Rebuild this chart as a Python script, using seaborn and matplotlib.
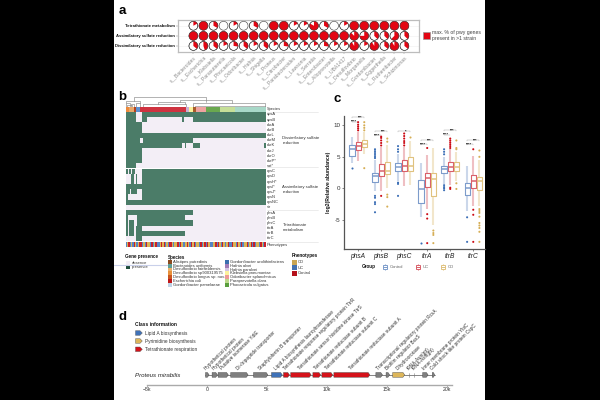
import numpy as np
import pandas as pd
import matplotlib
matplotlib.use("Agg")
import matplotlib.pyplot as plt
from matplotlib.colors import ListedColormap
from matplotlib.patches import Rectangle, Wedge, Circle, Polygon
import seaborn as sns

# ---------------- panel a data
genera = ["s__Bacteroides", "s__Escherichia", "s__Klebsiella", "s__Parasutterella", "s__Phocaeicola",
          "s__Odoribacter", "s__Hafnia", "s__Shigella", "s__Proteus", "s__Citrobacter",
          "s__Parabacteroides", "s__Lawsonia", "s__Serratia", "s__Enterobacter", "s__Alloprevotella",
          "s__UBA1417", "s__Desulfovibrio", "s__Morganella", "s__Gordonibacter", "s__Eggerthella",
          "s__Ruthenibacter", "s__Schizimonas"]
pathways = ["Tetrathionate metabolism", "Assimilatory sulfate reduction", "Dissimilatory sulfate reduction"]
tetrathionate = [.17, 1, .33, 0, .17, 0, .33, 0, 1, 1, .17, .17, .83, .33, 0, .17, 1, 1, 1, 1, 1, 1]
assimilatory = [1, 1, 1, 1, 1, 1, 1, 1, 1, 1, 1, 1, 1, 1, 1, 1, .875, .75, .375, .375, .625, .375]
dissimilatory = [.36, .45, .36, .18, .27, .36, .18, .36, .18, .27, .18, .18, .18, .27, .18, .18, .91, .18, .91, .36, .91, .36]

# ---------------- panel b data
gene_groups = {
    "Dissimilatory": ["apsA", "apsB", "dsrA", "dsrB", "dsrL", "dsrM", "dsrK", "dsrJ", "dsrO", "dsrP", "sat"],
    "Assimilatory": ["cysC", "cysD", "cysH", "cysI", "cysJ", "cysN", "cysNC", "sir"],
    "Tetrathionate": ["phsA", "phsB", "phsC", "ttrA", "ttrB", "ttrC"],
}
n_strains = 122
presence = {
    "apsA": [(0, 9), (14, 122)], "apsB": [(0, 9), (14, 19), (49, 51), (59, 122)],
    "dsrA": [(0, 14)], "dsrB": [(0, 14)], "dsrL": [(0, 122)], "dsrM": [(0, 13), (15, 59)],
    "dsrK": [(0, 49), (52, 53), (59, 65), (121, 122)], "dsrJ": [(0, 14)], "dsrO": [(0, 14)],
    "dsrP": [(0, 14)], "sat": [(0, 9)],
    "cysC": [(0, 2), (3, 5), (6, 8), (14, 122)], "cysD": [(5, 7), (9, 10), (14, 122)],
    "cysH": [(5, 7), (9, 10), (14, 122)], "cysI": [(0, 122)], "cysJ": [(0, 4), (5, 10), (14, 122)],
    "cysN": [(0, 2), (14, 122)], "cysNC": [(0, 122)], "sir": [],
    "phsA": [(0, 59)], "phsB": [(0, 2), (10, 52)], "phsC": [(0, 2), (3, 7), (10, 59)],
    "ttrA": [(0, 2), (3, 7), (9, 14)], "ttrB": [(0, 2), (3, 7), (9, 52)], "ttrC": [(9, 14)],
}
species_counts = [3, 4, 2, 4, 40, 2, 4, 2, 9, 12, 13, 27]
species_bar_colors = ["#EE8A3C", "#E8A86A", "#B5431F", "#5B8FCF", "#CF3340", "#C9B2D6", "#FBF09A",
                      "#A85A2A", "#EFA3A0", "#6AA84F", "#C6DF98", "#A8D8C8"]
phenotype_seq = ("BGRBGBRGBGRRBGBRGGBRBGRBBGRGRBGBRRGBGGRBRGBBGRGBRGRBGGBRBGRBRGBBGGRBRGB"
                 "RGBGRBBRGGBRGBRBGGRBGRBRBGGBRGBR")
phenotype_colors = {"G": "#D9B455", "B": "#5584C4", "R": "#C8202A"}
leg_species_1 = ["Alistipes putredinis", "Bacteroides uniformis", "Desulfovibrio fairfieldensis",
                 "Desulfovibrio sp900319575", "Desulfovibrio longus sp. nov.", "Escherichia coli",
                 "Gordonibacter pamelaeae"]
leg_colors_1 = ["#8B4A1F", "#5F9E93", "#E8B06A", "#E8903A", "#C8551E", "#C01818", "#BFD3E6"]
leg_species_2 = ["Gordonibacter urolithinfaciens", "Hafnia alvei", "Hafnia paralvei", "Klebsiella pneumoniae",
                 "Odoribacter splanchnicus", "Paraprevotella clara", "Phocaeicola vulgatus"]
leg_colors_2 = ["#3A6FAF", "#A07BB7", "#D3C4E3", "#FBF29B", "#EE9A96", "#BBD98A", "#5A9E3E"]

# ---------------- panel c data  (low whisker, q1, median, q3, high whisker)
genes_c = ["phsA", "phsB", "phsC", "ttrA", "ttrB", "ttrC"]
groups_c = ["Control", "UC", "CD"]
stats_control = [[4.0, 5.2, 6.2, 6.9, 8.2], [-0.5, 1.0, 2.0, 2.5, 4.5], [1.2, 2.8, 3.4, 4.0, 5.5],
                 [-4.5, -2.3, -0.1, 1.3, 4.0], [0.7, 2.4, 3.0, 3.6, 5.0], [-3.6, -1.1, 0.0, 0.9, 3.5]]
stats_uc = [[4.3, 6.1, 6.7, 7.4, 9.0], [-0.5, 1.9, 2.8, 3.9, 6.6], [0.4, 2.7, 3.6, 4.5, 6.6],
            [-3.3, 0.2, 1.6, 2.5, 5.3], [0.5, 2.7, 3.4, 4.2, 6.2], [-2.8, 0.0, 1.2, 2.1, 5.2]]
stats_cd = [[5.5, 6.6, 7.1, 7.6, 9.0], [0.0, 2.2, 2.8, 4.1, 6.9], [0.5, 2.7, 3.6, 4.9, 7.5],
            [-5.9, -1.2, 1.5, 2.5, 6.4], [1.2, 2.8, 3.4, 4.2, 5.8], [-2.8, -0.2, 1.2, 1.8, 4.5]]
out_control = [[3.2], [4.8, 5.0, 5.3, 5.6, 5.9, 6.2, -1.2, -1.5, -2.2, -2.5, -3.8], [5.8, 6.2, 6.7, 0.7, 0.9, -1.2],
               [-8.7], [5.4, 5.8, 6.2, 0.5, 0.2, 0.0, -0.3], [-4.6, -8.5]]
out_uc = [[9.2, 9.5, 9.8, 10.1, 10.5], [6.8, 7.2, 7.6, 8.0, 8.2, -1.2], [6.8, 7.2, 7.5, 7.9, 8.3, 8.7],
          [6.4, -4.1, -4.8, -8.7], [6.4, 6.7, 7.0, 7.3, 7.6, 7.9, 0.1, -0.1], [6.2, -3.4, -4.2, -8.5]]
out_cd = [[3.2, 9.2, 9.6, 10.0, 10.5], [7.4, 7.9, -1.0, -1.4, -2.9], [8.2],
          [-6.7, -7.1, -7.4, -8.7], [6.2, 6.4, 7.6, 0.8, -0.1],
          [6.0, 5.0, -3.3, -3.6, -3.9, -4.5, -5.5, -5.9, -6.3, -6.9, -8.5]]
sig_gene = [0, 0, 1, 1, 2, 3, 3, 4, 4, 5, 5]
sig_pair = ["UC", "CD", "UC", "CD", "CD", "UC", "CD", "UC", "CD", "UC", "CD"]
sig_y = [10.6, 11.3, 8.4, 9.1, 9.1, 7.0, 7.65, 8.5, 9.2, 7.0, 7.65]
sig_text = ["****", "***", "****", "***", "*", "****", "***", "****", "***", "****", "***"]

# ---------------- panel d data (kb)
gene_names = ["Hypothetical protein", "Hypothetical protein", "Putative isomerase YdiE", "Di-/tripeptide transporter",
              "Staphyloferrin B transporter", "Lipid A biosynthesis lauroyltransferase",
              "Tetrathionate response regulatory protein TtrR", "Tetrathionate sensor histidine kinase TtrS",
              "Tetrathionate reductase subunit B", "Tetrathionate reductase subunit C",
              "Tetrathionate reductase subunit A", "Transcriptional regulatory protein RcsA",
              "Biofilm regulator BssS", "Dihydroorotase", "tRNA-Asn(gtt)", "tRNA-Asn(gtt)",
              "Inner membrane protein YbiC", "Cold shock-like protein CspC"]
gene_start = [-0.1, 0.45, 0.95, 2.0, 3.9, 5.4, 6.4, 7.0, 8.85, 9.6, 10.6, 14.1, 14.95, 15.5, 16.9, 17.3, 18.0, 18.8]
gene_end = [0.2, 0.9, 1.8, 3.45, 5.1, 6.3, 6.9, 8.7, 9.5, 10.5, 13.6, 14.65, 15.25, 16.5, 16.95, 17.35, 18.45, 19.0]
gene_class = ["o", "o", "o", "o", "o", "L", "T", "T", "T", "T", "T", "o", "o", "P", "o", "o", "o", "o"]
class_colors = {"o": "#7F7F7F", "L": "#3F72B8", "P": "#DDB65A", "T": "#D5121A"}
class_names = ["Lipid A biosynthesis", "Pyrimidine biosynthesis", "Tetrathionate respiration"]
class_keys = ["L", "P", "T"]

# ---------------- figure
sns.set_theme(style="white")
plt.rcParams["font.family"] = ["Liberation Sans", "DejaVu Sans"]
plt.rcParams["axes.unicode_minus"] = False
W, H = 600, 400
fig = plt.figure(figsize=(6, 4), dpi=100, facecolor="black")


def px_axes(l, t, r, b, **kw):
    return fig.add_axes([l / W, 1 - b / H, (r - l) / W, (b - t) / H], **kw)


ov = px_axes(0, 0, W, H)
ov.set_xlim(0, W)
ov.set_ylim(H, 0)
ov.axis("off")
ov.add_patch(Rectangle((114, 0), 371, 400, fc="white", ec="none", zorder=0))
for lab, x, y in [("a", 118.5, 10.5), ("b", 118.5, 96.5), ("c", 334, 99.5), ("d", 118.5, 317)]:
    ov.text(x, y, lab, fontsize=9.5, fontweight="bold", color="black", va="center", ha="left")

# ---------------- a: pies
RED = "#E30613"
ax = px_axes(178, 20, 419, 51.7)
ax.set_xlim(-1.53, 22.45)
ax.set_ylim(2.57, -0.57)
ax.grid(True, color="#EFEFEF", lw=0.4)
ax.set_axisbelow(True)
for r, vals in enumerate([tetrathionate, assimilatory, dissimilatory]):
    for c, v in enumerate(vals):
        ax.add_patch(Circle((c, r), 0.44, fc="white", ec="#333333", lw=0.4, zorder=2))
        if v > 0:
            # y axis is inverted: increasing angle runs clockwise on screen
            ax.add_patch(Wedge((c, r), 0.44, -90, -90 + 360 * v, fc=RED, ec="none", zorder=3))
            ax.add_patch(Circle((c, r), 0.44, fc="none", ec="#333333", lw=0.3, zorder=4))
ax.set_xticks(range(len(genera)))
ax.set_xticklabels(genera, rotation=45, ha="right", rotation_mode="anchor", fontsize=3.6, color="#8C8C8C")
ax.set_yticks(range(3))
ax.set_yticklabels(pathways, fontsize=3.0, fontweight="bold", color="#111111")
ax.tick_params(axis="both", length=1.2, width=0.3, color="#777777", pad=1, bottom=True, left=True)
for s in ax.spines.values():
    s.set_color("#BDBDBD")
    s.set_linewidth(0.9)
ov.add_patch(Rectangle((422.5, 32), 7, 7, fc=RED, ec="#999999", lw=0.5))
ov.text(432, 35.7, "max. % of pwy genes\npresent in >1 strain", fontsize=3.7, color="#444444", va="center", linespacing=1.25)

# ---------------- b: heatmaps
GREEN, PALE = "#4B7C68", "#F3EEF6"
hm_cmap = ListedColormap([PALE, GREEN])
row_h = 5.17
top = 111.8
for names in gene_groups.values():
    mat = np.zeros((len(names), n_strains))
    for i, g in enumerate(names):
        for s, e in presence[g]:
            mat[i, s:e] = 1
    bot = top + row_h * len(names)
    hax = px_axes(125.5, top + 0.25, 265.6, bot - 0.25)
    sns.heatmap(pd.DataFrame(mat, index=names), cmap=hm_cmap, vmin=0, vmax=1, cbar=False, ax=hax,
                xticklabels=False, yticklabels=False, rasterized=True)
    hax.set_xlabel("")
    hax.set_ylabel("")
    for i, g in enumerate(names):
        ov.text(267, top + (i + 0.5) * row_h, g + ("*" if g in ("dsrP", "sat", "cysH", "cysI", "cysJ") else ""),
                fontsize=2.9, color="#333333", va="center")
    top = bot

sp_ax = px_axes(125.5, 107.2, 265.6, 111.6)
sns.heatmap(np.repeat(np.arange(len(species_counts)), species_counts)[None, :], cmap=ListedColormap(species_bar_colors),
            cbar=False, ax=sp_ax, xticklabels=False, yticklabels=False)
ph_ax = px_axes(125.5, 242.3, 265.6, 247)
ph_codes = [list(phenotype_colors).index(ch) for ch in phenotype_seq]
sns.heatmap(np.array(ph_codes)[None, :], cmap=ListedColormap(list(phenotype_colors.values())), vmin=0, vmax=2,
            cbar=False, ax=ph_ax, xticklabels=False, yticklabels=False)
ov.text(267, 109.4, "Species", fontsize=2.9, color="#333333", va="center")
ov.text(267, 244.7, "Phenotypes", fontsize=2.9, color="#333333", va="center")
for y in [112, 166.7, 210, 242]:
    ov.plot([267, 317.5], [y, y], color="#DDDDDD", lw=0.4)
for y, t in [(140.7, "Dissimilatory sulfate\nreduction"), (189.7, "Assimilatory sulfate\nreduction"),
             (227.7, "Tetrathionate\nmetabolism")]:
    ov.text(282.4, y, t, fontsize=3.05, color="#333333", va="center", linespacing=1.3)

# dendrogram (left, right, top, left foot, right foot in zoomed units)
dendro = [(72, 288, 22, 32, 36), (210, 365, 30, 36, 40), (145, 225, 37, 42, 42), (100, 228, 42, 52, 52),
          (250, 465, 40, 52, 52), (255, 465, 48, 52, 52), (47, 90, 32, 40, 40), (47, 60, 40, 52, 52),
          (62, 72, 42, 52, 52), (78, 90, 40, 52, 52), (52, 65, 45, 52, 52)]
for l, r, t, fl, fr in dendro:
    ov.plot([110 + l / 3, 110 + l / 3, 110 + r / 3, 110 + r / 3],
            [90 + fl / 3, 90 + t / 3, 90 + t / 3, 90 + fr / 3], color="#888888", lw=0.45)

# b legends
ov.plot([114, 167], [265, 265], color="#C9D0EA", lw=0.8)
ov.text(125, 256.7, "Gene presence", fontsize=3.3, fontweight="bold", color="#111111", va="center")
for y, col, t in [(262.7, PALE, "absence"), (266.7, "#1F4E3D", "presence")]:
    ov.add_patch(Rectangle((126.3, y - 2), 3.7, 4, fc=col, ec="none"))
    ov.text(132, y, t, fontsize=3.0, color="#333333", va="center")
ov.text(167.6, 257, "Species", fontsize=3.3, fontweight="bold", color="#111111", va="center")
for x0, names, cols in [(168, leg_species_1, leg_colors_1), (225.4, leg_species_2, leg_colors_2)]:
    for i, (t, col) in enumerate(zip(names, cols)):
        y = 261.7 + i * 3.9
        ov.add_patch(Rectangle((x0, y - 1.95), 3.5, 3.9, fc=col, ec="none"))
        ov.text(x0 + 5, y, t, fontsize=3.0, color="#333333", va="center")
ov.text(292, 256, "Phenotypes", fontsize=3.3, fontweight="bold", color="#111111", va="center")
for y, col, t in zip([262.3, 267.7, 273], ["#C9A552", "#4472B0", "#B5121B"], ["CD", "UC", "Control"]):
    ov.add_patch(Rectangle((292, y - 2.5), 4.6, 5, fc=col, ec="none"))
    ov.text(297.7, y, t, fontsize=3.0, color="#333333", va="center")

# ---------------- c: boxplots
pal_box = {"Control": "#7D9CCB", "UC": "#D9606A", "CD": "#E0C27F"}
pal_pts = {"Control": "#3A6DB5", "UC": "#CC0A14", "CD": "#D6AE55"}
box_rows, pt_rows = [], []
for grp, st, ou in zip(groups_c, [stats_control, stats_uc, stats_cd], [out_control, out_uc, out_cd]):
    for g, s5, o in zip(genes_c, st, ou):
        box_rows += [(g, grp, v) for v in s5]
        pt_rows += [(g, grp, v) for v in o]
box_df = pd.DataFrame(box_rows, columns=["gene", "group", "value"])
pt_df = pd.DataFrame(pt_rows, columns=["gene", "group", "value"])
cax = px_axes(344.3, 116, 485, 249.3, facecolor="none")
sns.boxplot(data=box_df, x="gene", y="value", hue="group", order=genes_c, hue_order=groups_c, palette=pal_box,
            fill=False, whis=(0, 100), showcaps=False, showfliers=False, width=0.8, gap=0.15, linewidth=0.8,
            whiskerprops={"alpha": 0.4, "linewidth": 1.5}, medianprops={"linewidth": 1.1},
            legend=False, ax=cax)
sns.stripplot(data=pt_df, x="gene", y="value", hue="group", order=genes_c, hue_order=groups_c, palette=pal_pts,
              dodge=True, jitter=False, size=1.5, linewidth=0, legend=False, ax=cax)
cax.set_xlim(-0.6, 5.51)
cax.set_ylim(-9.68, 11.48)
cax.set_yticks([-5, 0, 5, 10])
cax.set_yticklabels(["-5", "0", "5", "10"], fontsize=4.5, color="#333333")
cax.set_xticks(range(6))
cax.set_xticklabels(genes_c, fontsize=4.8, style="italic", color="#222222")
cax.set_xlabel("")
cax.set_ylabel("log2(Relative abundance)", fontsize=3.6, fontweight="bold", color="#111111", labelpad=1.5)
cax.tick_params(axis="both", length=1.5, width=0.5, color="#555555", pad=1.2, bottom=True, left=True)
sns.despine(ax=cax)
for s in ("left", "bottom"):
    cax.spines[s].set_color("#555555")
    cax.spines[s].set_linewidth(0.9)
for gi, pair, yv, t in zip(sig_gene, sig_pair, sig_y, sig_text):
    x1 = gi - 0.267
    x2 = gi if pair == "UC" else gi + 0.267
    cax.plot([x1, x1, x2, x2], [yv - 0.1, yv, yv, yv - 0.1], color="#AAAAAA", lw=0.35, clip_on=False)
    xc = gi - 0.2 if pair == "UC" else gi + 0.08
    cax.text(xc, yv - 0.35, t, fontsize=2.8, fontweight="bold", color="#111111", ha="center", va="bottom", clip_on=False)
ov.text(362, 266.7, "Group", fontsize=3.3, fontweight="bold", color="#111111", va="center")
for x0, grp in zip([385, 417.7, 442.7], groups_c):
    ov.plot([x0, x0], [263.5, 270], color=pal_box[grp], lw=0.8, alpha=0.5)
    ov.add_patch(Rectangle((x0 - 2.2, 264.8), 4.4, 3.8, fc="white", ec=pal_box[grp], lw=0.7, zorder=3))
    ov.plot([x0 - 2.2, x0 + 2.2], [266.7, 266.7], color=pal_box[grp], lw=0.7, zorder=4)
    ov.text(x0 + 5, 266.7, grp, fontsize=3.1, color="#666666", va="center")

# ---------------- d: gene map
dax = px_axes(146.7, 360, 451.7, 395, facecolor="none")
dax.set_xlim(-5, 20.42)
dax.set_ylim(-1, 1)
for s in ("left", "right", "top"):
    dax.spines[s].set_visible(False)
dax.spines["bottom"].set_position(("data", -0.4))
dax.spines["bottom"].set_color("#AAAAAA")
dax.spines["bottom"].set_linewidth(1.0)
dax.plot([gene_start[0], gene_end[-1]], [0.15, 0.15], color="#555555", lw=0.5, zorder=1)
for s, e, k, name in zip(gene_start, gene_end, gene_class, gene_names):
    tip = min(0.14, (e - s) * 0.5)
    h = 0.135
    yc = 0.15
    if e - s < 0.1:
        dax.plot([s, s], [yc - h * 0.7, yc + h * 0.7], color="#777777", lw=0.4, zorder=2)
    else:
        dax.add_patch(Polygon([(s, yc + h), (e - tip, yc + h), (e, yc), (e - tip, yc - h), (s, yc - h)],
                              closed=True, fc=class_colors[k], ec="#444444", lw=0.3, zorder=3))
    dax.annotate(name, xy=((s + e) / 2, yc + 0.23), rotation=45, ha="left", va="bottom", fontsize=3.4,
                 color="#333333", rotation_mode="anchor", annotation_clip=False)
dax.set_yticks([])
dax.set_xticks([-5, 0, 5, 10, 15, 20])
dax.set_xticklabels(["\u22125k", "0", "5k", "10k", "15k", "20k"], fontsize=3.7, color="#333333")
dax.tick_params(axis="x", length=1.2, width=0.4, color="#777777", pad=0.8, bottom=True)
ov.text(134.7, 375.6, "Proteus mirabilis", fontsize=4.4, style="italic", color="#222222", va="center")
ov.text(134.7, 324, "Class information", fontsize=3.5, fontweight="bold", color="#111111", va="center")
for y, k, t in zip([333, 341, 349.3], class_keys, class_names):
    ov.add_patch(Polygon([(135.5, y - 2.3), (140, y - 2.3), (142.3, y), (140, y + 2.3), (135.5, y + 2.3)],
                         closed=True, fc=class_colors[k], ec="#555555", lw=0.3))
    ov.text(145.4, y, t, fontsize=3.4, color="#333333", va="center")

fig.savefig("out.png", dpi=100, facecolor="black")
